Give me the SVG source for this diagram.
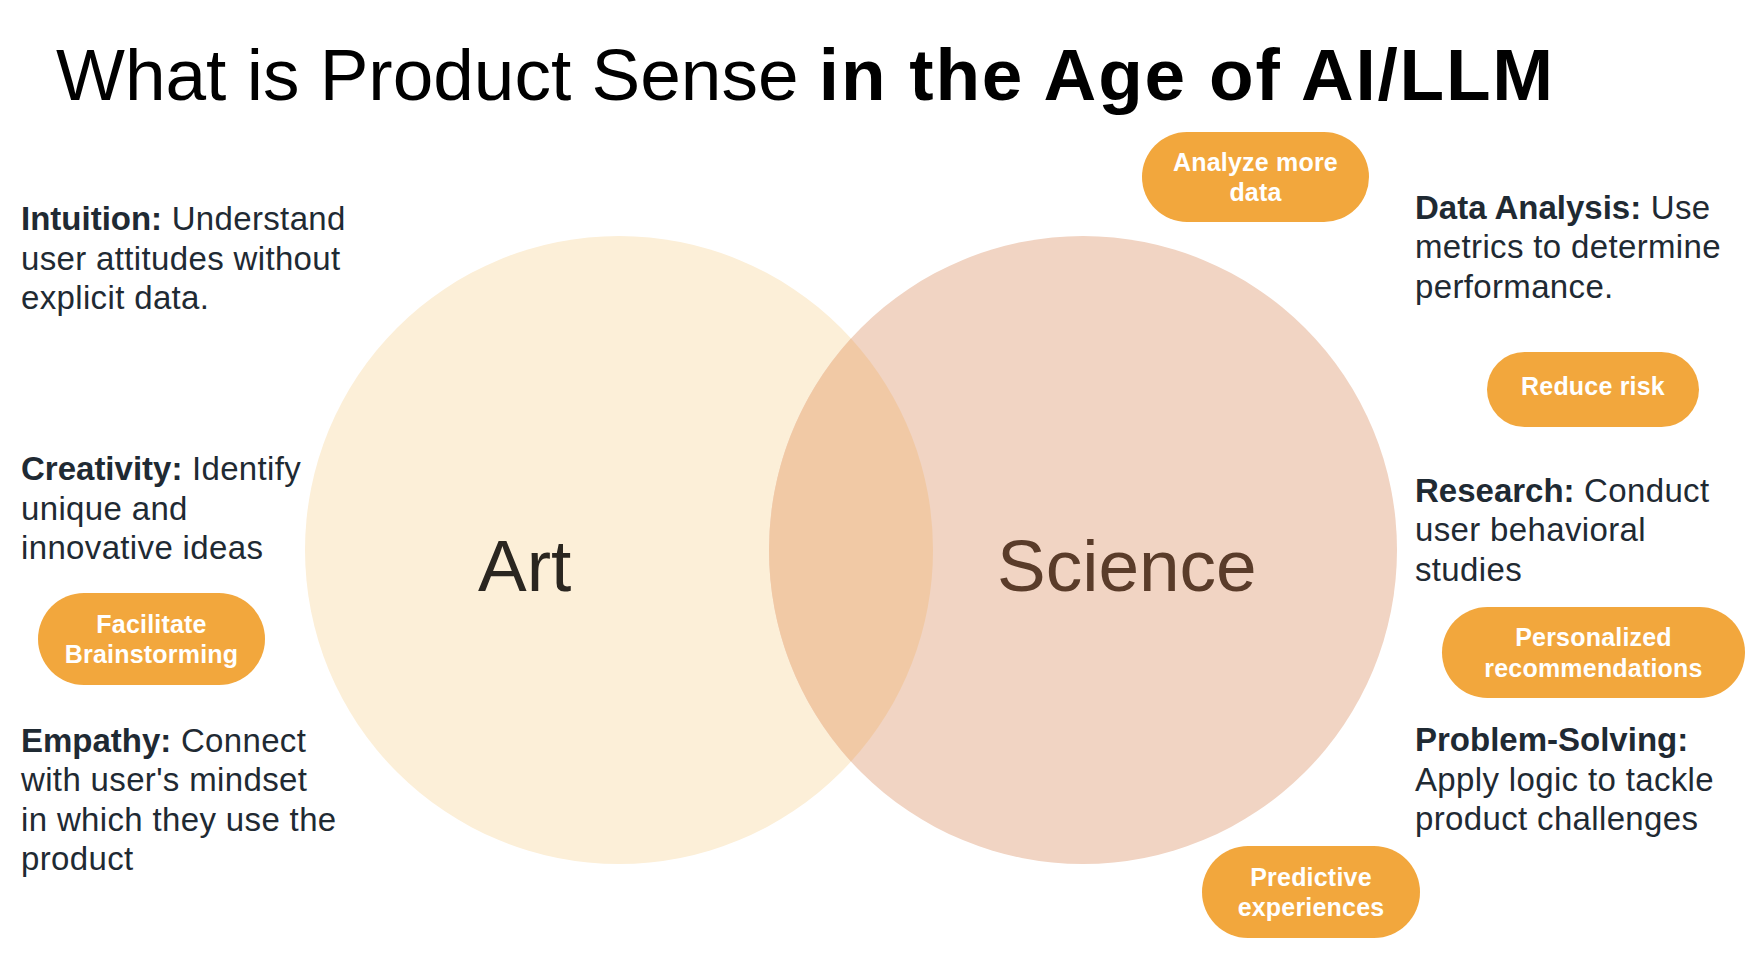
<svg xmlns="http://www.w3.org/2000/svg" width="1750" height="960" viewBox="0 0 1750 960">
<style>
.body{font-family:"Liberation Sans",Arial,sans-serif;font-size:33px;letter-spacing:0.35px;fill:#1f2a33}
.b{font-weight:bold;letter-spacing:0}
.pill{fill:#F2A73D}
.pt{font-family:"Liberation Sans",Arial,sans-serif;font-size:25px;font-weight:bold;letter-spacing:0.2px;fill:#ffffff;text-anchor:middle}
.title{font-family:"Liberation Sans",Arial,sans-serif;font-size:73px;fill:#000}
.big{font-family:"Liberation Sans",Arial,sans-serif;font-size:73px}
</style>
<rect width="1750" height="960" fill="#ffffff"/>
<g id="title"><text class="title" x="56" y="100">What is Product Sense <tspan font-weight="bold" letter-spacing="1.8">in the Age of AI/LLM</tspan></text></g>

<g id="art-circle"><circle cx="619" cy="550" r="314" fill="#FCEFD8"/><text class="big" x="478" y="591" fill="#2a2620">Art</text></g>
<g id="science-circle"><circle cx="1083" cy="550" r="314" fill="#F1D4C3"/><text class="big" x="997" y="591" fill="#5a3c2a">Science</text></g>
<g id="overlap"><path d="M851 338.4 A314 314 0 0 1 851 761.6 A314 314 0 0 1 851 338.4 Z" fill="#F1C9A5"/></g>

<g id="intuition"><text class="body" x="21" y="230"><tspan class="b">Intuition:</tspan> Understand</text><text class="body" x="21" y="270">user attitudes without</text><text class="body" x="21" y="309">explicit data.</text></g>
<g id="creativity"><text class="body" x="21" y="480"><tspan class="b">Creativity:</tspan> Identify</text><text class="body" x="21" y="520">unique and</text><text class="body" x="21" y="559">innovative ideas</text></g>
<g id="empathy"><text class="body" x="21" y="752"><tspan class="b">Empathy:</tspan> Connect</text><text class="body" x="21" y="791">with user's mindset</text><text class="body" x="21" y="831">in which they use the</text><text class="body" x="21" y="870">product</text></g>

<g id="data-analysis"><text class="body" x="1415" y="219"><tspan class="b">Data Analysis:</tspan> Use</text><text class="body" x="1415" y="258">metrics to determine</text><text class="body" x="1415" y="298">performance.</text></g>
<g id="research"><text class="body" x="1415" y="502"><tspan class="b">Research:</tspan> Conduct</text><text class="body" x="1415" y="541">user behavioral</text><text class="body" x="1415" y="581">studies</text></g>
<g id="problem-solving"><text class="body b" x="1415" y="751">Problem-Solving:</text><text class="body" x="1415" y="791">Apply logic to tackle</text><text class="body" x="1415" y="830">product challenges</text></g>

<g id="pill-analyze"><rect class="pill" x="1142" y="132" width="227" height="90" rx="45"/><text class="pt" x="1255.5" y="171">Analyze more</text><text class="pt" x="1255.5" y="201">data</text></g>
<g id="pill-reduce"><rect class="pill" x="1487" y="352" width="212" height="75" rx="37.5"/><text class="pt" x="1593" y="395">Reduce risk</text></g>
<g id="pill-brainstorm"><rect class="pill" x="38" y="593" width="227" height="92" rx="46"/><text class="pt" x="151.5" y="633">Facilitate</text><text class="pt" x="151.5" y="663">Brainstorming</text></g>
<g id="pill-personalized"><rect class="pill" x="1442" y="607" width="303" height="91" rx="45.5"/><text class="pt" x="1593.5" y="646">Personalized</text><text class="pt" x="1593.5" y="677">recommendations</text></g>
<g id="pill-predictive"><rect class="pill" x="1202" y="846" width="218" height="92" rx="46"/><text class="pt" x="1311" y="886">Predictive</text><text class="pt" x="1311" y="916">experiences</text></g>
</svg>
